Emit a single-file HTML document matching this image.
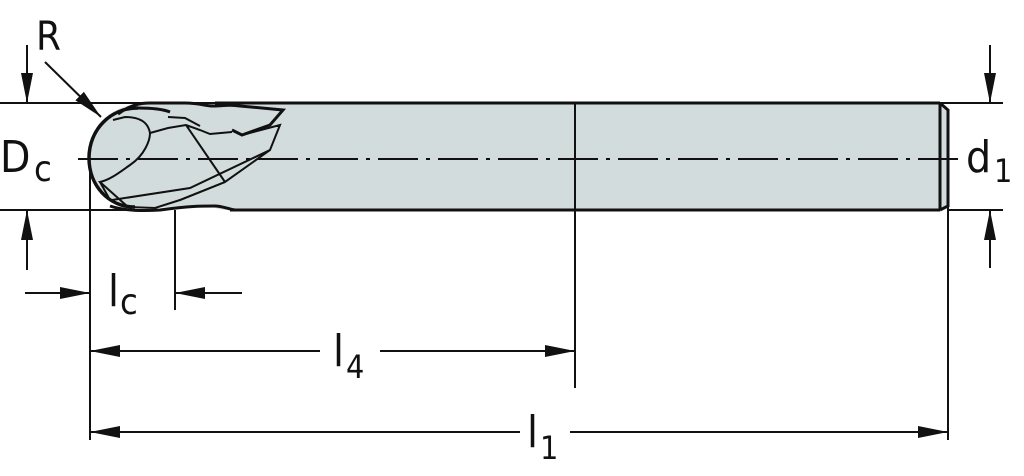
<!DOCTYPE html>
<html><head><style>body{margin:0;background:#fff}svg{display:block}text{font-family:"DejaVu Sans Condensed","Liberation Sans",sans-serif;fill:#111}</style></head><body>
<svg width="1024" height="476" viewBox="0 0 1024 476" xmlns="http://www.w3.org/2000/svg">
<defs>
<marker id="b" viewBox="0 0 30 12" markerWidth="30" markerHeight="12" refX="30" refY="6" orient="auto" markerUnits="userSpaceOnUse"><path d="M0,0 L30,6 L0,12Z" fill="#111"/></marker></defs>
<g stroke="#111" fill="none">
<!-- body -->
<path d="M150,103 L940,103 L948,110 L948,206 L940,210 L230,210 C215,210 215,206 200,206 L150,208 C110,208 88,185 88,157 C88,125 112,103 150,103Z" fill="#d3dcdc" stroke="none"/>
<path d="M215,103 L940,103 M230,210 L940,210" stroke-width="3"/>
<path d="M940,103 L940,210 M940,103 L948,110 L948,206 L940,210" stroke-width="3"/>
<!-- ball & flutes -->
<path d="M118,114 C130,105 140,103 150,103 L185,103 C200,103 205,106 213,106 C225,106 228,104 240,106 L283,110 L270,125 L242,135 L232,130" stroke-width="3"/>
<path d="M110,206 C125,211 145,211 160,210 C190,206 200,206 215,206 C222,206 228,209 235,210" stroke-width="3"/>
<path d="M135,207 C108,207 89,185 89,158 C89,130 110,108 138,108" stroke-width="3.5"/>
<path d="M138,108 C155,108 165,110 170,112" stroke-width="3"/>
<path d="M242,135 L280,125 L270,150 L225,182 L180,200 L155,208 L128,207 L100,182 C110,180 120,172 130,165 C145,155 150,140 150,133 C148,122 140,117 125,117 L113,120" stroke-width="2"/>
<path d="M100,182 L110,200 L128,207 M150,133 L168,128 L186,125 L200,130 L210,134 L232,132 M186,125 L225,182 M168,117 L185,118 L200,126 M180,200 L225,182 M112,200 L190,188 L270,150" stroke-width="2"/>
<!-- extension lines -->
<path d="M0,103 L215,103 M940,103 L1003,103 M0,210 L160,210 M948,210 L1003,210" stroke-width="2"/>
<path d="M90,165 L90,440 M175,210 L175,310 M575,103 L575,388 M948,206 L948,440" stroke-width="2"/>
<!-- centerline -->
<path d="M78,159 L962,159" stroke-width="2" stroke-dasharray="40,8,4,8"/>
<!-- arrows -->
<g stroke-width="2">
<line x1="27" y1="45" x2="27" y2="103" marker-end="url(#b)"/>
<line x1="27" y1="270" x2="27" y2="210" marker-end="url(#b)"/>
<line x1="990" y1="45" x2="990" y2="103" marker-end="url(#b)"/>
<line x1="990" y1="268" x2="990" y2="210" marker-end="url(#b)"/>
<line x1="45" y1="62" x2="101" y2="117" marker-end="url(#b)"/>
<line x1="25" y1="293" x2="90" y2="293" marker-end="url(#b)"/>
<line x1="242" y1="293" x2="175" y2="293" marker-end="url(#b)"/>
<line x1="320" y1="351" x2="90" y2="351" marker-end="url(#b)"/>
<line x1="380" y1="351" x2="575" y2="351" marker-end="url(#b)"/>
<line x1="520" y1="432" x2="90" y2="432" marker-end="url(#b)"/>
<line x1="570" y1="432" x2="948" y2="432" marker-end="url(#b)"/>
</g>
</g>
<text x="36" y="50" font-size="40">R</text>
<text x="0" y="172" font-size="44">D</text><text x="34" y="181" font-size="36">c</text>
<text x="966" y="172" font-size="44">d</text><text x="994" y="182" font-size="32">1</text>
<text x="108" y="306" font-size="44">l</text><text x="120" y="314" font-size="36">c</text>
<text x="333" y="366" font-size="44">l</text><text x="346" y="378" font-size="32">4</text>
<text x="527" y="447" font-size="44">l</text><text x="540" y="459" font-size="32">1</text>
</svg>
</body></html>
